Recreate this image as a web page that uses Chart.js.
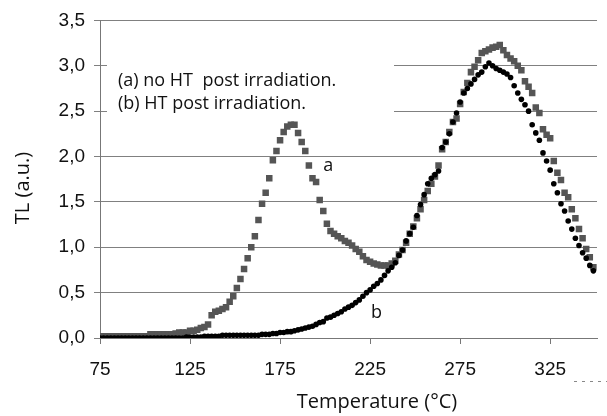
<!DOCTYPE html>
<html><head><meta charset="utf-8">
<script src="https://cdn.jsdelivr.net/npm/chart.js@4/dist/chart.umd.min.js"></script>
<style>html,body{margin:0;padding:0;background:#fff}#wrap{width:607px;height:416px}</style>
</head><body><div id="wrap"><canvas id="c" width="607" height="416"></canvas></div>
<script>
const temps = [75,77,79,81,83,85,87,89,91,93,95,97,99,101,103,105,107,109,111,113,115,117,119,121,123,125,127,129,131,133,135,137,139,141,143,145,147,149,151,153,155,157,159,161,163,165,167,169,171,173,175,177,179,181,183,185,187,189,191,193,195,197,199,201,203,205,207,209,211,213,215,217,219,221,223,225,227,229,231,233,235,237,239,241,243,245,247,249,251,253,255,257,259,261,263,265,267,269,271,273,275,277,279,281,283,285,287,289,291,293,295,297,299,301,303,305,307,309,311,313,315,317,319,321,323,325,327,329,331,333,335,337,339,341,343,345,347,349];
const seriesA = [0.02,0.02,0.02,0.02,0.02,0.02,0.02,0.02,0.02,0.02,0.02,0.02,0.02,0.02,0.04,0.04,0.04,0.04,0.04,0.04,0.04,0.05,0.06,0.06,0.06,0.08,0.08,0.09,0.11,0.12,0.15,0.25,0.29,0.30,0.32,0.34,0.40,0.46,0.55,0.65,0.76,0.88,1.00,1.12,1.30,1.48,1.60,1.76,1.96,2.06,2.18,2.27,2.33,2.35,2.35,2.26,2.16,2.06,1.90,1.76,1.72,1.52,1.40,1.26,1.18,1.15,1.12,1.10,1.07,1.05,1.02,0.98,0.95,0.90,0.86,0.84,0.82,0.81,0.80,0.80,0.80,0.82,0.85,0.92,0.97,1.05,1.15,1.23,1.32,1.42,1.52,1.62,1.70,1.78,1.90,2.08,2.16,2.27,2.38,2.42,2.58,2.71,2.81,2.93,2.99,3.06,3.14,3.16,3.18,3.20,3.21,3.23,3.17,3.12,3.08,3.05,3.00,2.95,2.83,2.77,2.70,2.54,2.48,2.30,2.24,2.20,1.95,1.82,1.74,1.60,1.55,1.42,1.32,1.20,1.10,0.98,0.89,0.78];
const seriesB = [0,0,0,0,0,0,0,0,0,0,0,0,0,0,0,0,0,0,0,0,0,0,0,0,0.01,0.01,0.01,0.01,0.01,0.02,0.02,0.02,0.02,0.02,0.03,0.03,0.03,0.03,0.03,0.03,0.03,0.03,0.03,0.03,0.03,0.04,0.04,0.04,0.05,0.05,0.06,0.06,0.07,0.07,0.08,0.09,0.10,0.11,0.12,0.13,0.15,0.17,0.18,0.22,0.23,0.25,0.27,0.29,0.32,0.34,0.36,0.39,0.42,0.46,0.50,0.53,0.57,0.60,0.64,0.69,0.74,0.78,0.83,0.91,0.97,1.07,1.15,1.22,1.35,1.47,1.58,1.70,1.76,1.80,1.84,2.10,2.16,2.25,2.38,2.48,2.60,2.70,2.75,2.80,2.85,2.90,2.93,2.99,3.03,3.00,2.97,2.95,2.93,2.91,2.87,2.78,2.70,2.63,2.57,2.50,2.35,2.26,2.18,2.04,1.95,1.85,1.70,1.60,1.48,1.40,1.29,1.20,1.10,1.02,0.94,0.88,0.80,0.74];
const xTicks = [75,125,175,225,275,325];
const yTicks = [0,0.5,1,1.5,2,2.5,3,3.5];
const xTitle = 'Temperature (°C)';
const yTitle = 'TL (a.u.)';
const noteLines = ['(a) no HT  post irradiation.', '(b) HT post irradiation.'];
const curveLabels = [{text:'a', t:201.7, v:1.9}, {text:'b', t:228.5, v:0.28}];

const pts = arr => temps.map((t,i)=>({x:t, y:arr[i]}));

const annot = {
  id:'annot',
  beforeDatasetsDraw(chart){
    const ctx = chart.ctx;
    ctx.save();
    ctx.fillStyle = '#fff';
    ctx.fillRect(107, 57, 287, 61);
    ctx.restore();
  },
  afterDraw(chart){
    const ctx = chart.ctx, xs = chart.scales.x, ys = chart.scales.y;
    ctx.save();
    ctx.fillStyle = '#111';
    ctx.textBaseline = 'middle';
    ctx.textAlign = 'left';
    ctx.font = '18px "Open Sans"';
    ctx.fillText(noteLines[0], 118, 81);
    ctx.fillText(noteLines[1], 118, 104);
    ctx.textAlign = 'center';
    ctx.font = '18px "Open Sans"';
    curveLabels.forEach(l => ctx.fillText(l.text, xs.getPixelForValue(l.t), ys.getPixelForValue(l.v)));
    ctx.font = '20px "Open Sans"';
    ctx.fillText(xTitle, 377, 402);
    ctx.save();
    ctx.translate(23, 188);
    ctx.rotate(-Math.PI/2);
    ctx.fillText(yTitle, 0, 0);
    ctx.restore();
    ctx.strokeStyle = '#888';
    ctx.lineWidth = 1;
    ctx.setLineDash([3,5]);
    ctx.beginPath(); ctx.moveTo(574, 381.5); ctx.lineTo(607, 381.5); ctx.stroke();
    ctx.restore();
  }
};

new Chart(document.getElementById('c'), {
  type: 'scatter',
  data: { datasets: [
    { label:'b', data: pts(seriesB), pointStyle:'circle', pointRadius:2.8, borderWidth:0, backgroundColor:'#000', showLine:false },
    { label:'a', data: pts(seriesA), pointStyle:'rect', pointRadius:4.6, borderWidth:0, backgroundColor:'#555', showLine:false }
  ]},
  options: {
    responsive:false, animation:false, devicePixelRatio:1,
    layout:{padding:{top:20, right:10, left:0, bottom:0}},
    plugins:{legend:{display:false}, tooltip:{enabled:false}},
    scales:{
      x:{ type:'linear', min:75, max:351,
        afterBuildTicks(s){ s.ticks = xTicks.map(v=>({value:v})); },
        afterFit(s){ s.height = 78; },
        grid:{drawOnChartArea:false, drawTicks:true, tickLength:6, color:'#777'},
        border:{color:'#777'},
        ticks:{font:{family:'"Liberation Sans", Arial', size:19}, color:'#111', padding:14, maxRotation:0}
      },
      y:{ min:0, max:3.5,
        afterBuildTicks(s){ s.ticks = yTicks.map(v=>({value:v})); },
        afterFit(s){ s.width = 100; },
        grid:{drawTicks:true, tickLength:6, color:'#808080'},
        border:{color:'#777'},
        ticks:{font:{family:'"Liberation Sans", Arial', size:19}, color:'#111', padding:9,
          callback: v => v.toFixed(1).replace('.', ',')}
      }
    }
  },
  plugins:[annot]
});
</script></body></html>
